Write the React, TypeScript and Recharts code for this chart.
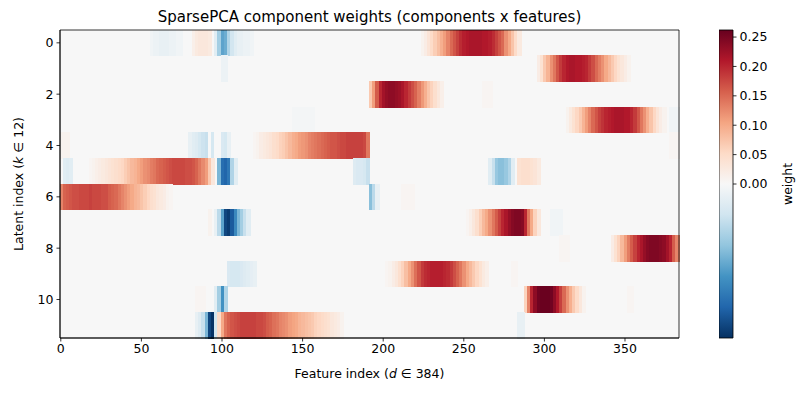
import React from 'react';
import { ComposedChart, XAxis, YAxis, ReferenceArea, Scatter, Label } from 'recharts';

// ---- data ----
// each run: [first feature index, weights for consecutive 2-feature cells]
type Run = [number, number[]];
const STEP = 2;
const N_FEATURES = 384;
const N_COMPONENTS = 12;
const VMAX = 0.262;

const ROW_0: Run[] = [
  [56, [-0.01, -0.015, -0.015, -0.02, -0.02, -0.02, -0.015, -0.015, -0.01, -0.01]],
  [82, [0.015, 0.025, 0.03, 0.03, 0.03, 0.025]],
  [96, [-0.03, -0.09, -0.14, -0.13, -0.08, -0.05, -0.03, -0.02, -0.02, -0.015, -0.015, -0.01]],
  [224, [0.01, 0.02, 0.035, 0.05, 0.065, 0.08, 0.095, 0.11, 0.13, 0.15, 0.165, 0.18, 0.195, 0.205, 0.21, 0.215, 0.215, 0.215, 0.215, 0.21, 0.21, 0.205, 0.195, 0.18, 0.165, 0.15, 0.12, 0.1, 0.075, 0.05, 0.025]],
];
const ROW_1: Run[] = [
  [100, [-0.015, -0.015]],
  [296, [0.02, 0.04, 0.07, 0.09, 0.12, 0.14, 0.165, 0.185, 0.2, 0.21, 0.215, 0.215, 0.21, 0.21, 0.205, 0.2, 0.185, 0.17, 0.15, 0.135, 0.12, 0.1, 0.085, 0.07, 0.055, 0.04, 0.03, 0.02, 0.01]],
];
const ROW_2: Run[] = [
  [192, [0.07, 0.11, 0.16, 0.2, 0.22, 0.23, 0.235, 0.235, 0.23, 0.225, 0.215, 0.2, 0.185, 0.17, 0.155, 0.135, 0.115, 0.095, 0.075, 0.06, 0.045, 0.03, 0.015]],
  [262, [0.005, 0.005, 0.005]],
];
const ROW_3: Run[] = [
  [144, [-0.005, -0.005, -0.005, -0.005, -0.005, -0.005, -0.005]],
  [314, [0.01, 0.025, 0.04, 0.055, 0.07, 0.09, 0.11, 0.13, 0.15, 0.165, 0.18, 0.19, 0.2, 0.205, 0.21, 0.215, 0.215, 0.215, 0.21, 0.21, 0.2, 0.185, 0.165, 0.14, 0.12, 0.095, 0.075, 0.055, 0.035, 0.02, 0.01]],
  [378, [-0.01, -0.01, -0.01]],
];
const ROW_4: Run[] = [
  [0, [0.01, 0.01, 0.01]],
  [80, [-0.02, -0.03, -0.035, -0.045, -0.055, -0.06, 0.0, -0.045, 0.0, 0.0, -0.04, -0.045, -0.02]],
  [120, [0.005, 0.01, 0.02, 0.025, 0.03, 0.035, 0.045, 0.05, 0.06, 0.065, 0.075, 0.085, 0.095, 0.1, 0.11, 0.115, 0.12, 0.13, 0.135, 0.14, 0.145, 0.15, 0.155, 0.16, 0.165, 0.165, 0.17, 0.175, 0.175, 0.18, 0.18, 0.18, 0.18, 0.18, 0.175, 0.14]],
  [378, [0.005, 0.005, 0.005]],
];
const ROW_5: Run[] = [
  [2, [-0.03, -0.035, -0.03]],
  [18, [0.005, 0.01, 0.015, 0.02, 0.025, 0.03, 0.035, 0.04, 0.045, 0.05, 0.055, 0.065, 0.075, 0.085, 0.09, 0.1, 0.11, 0.12, 0.125, 0.135, 0.14, 0.15, 0.155, 0.16, 0.165, 0.17, 0.175, 0.175, 0.175, 0.175, 0.17, 0.17, 0.165, 0.155, 0.14, 0.125, 0.11, 0.07, 0.03]],
  [98, [-0.12, -0.2, -0.21, -0.19, -0.08, -0.03]],
  [182, [-0.035, -0.04, -0.04, -0.045, -0.06]],
  [266, [-0.03, -0.06, -0.1, -0.11, -0.11, -0.1, -0.08, -0.03]],
  [284, [0.04, 0.045, 0.045, 0.045, 0.04, 0.035, 0.025]],
];
const ROW_6: Run[] = [
  [0, [0.13, 0.155, 0.16, 0.165, 0.17, 0.17, 0.175, 0.175, 0.175, 0.18, 0.175, 0.175, 0.175, 0.17, 0.17, 0.16, 0.155, 0.15, 0.14, 0.13, 0.12, 0.11, 0.1, 0.09, 0.085, 0.075, 0.065, 0.055, 0.045, 0.04, 0.03, 0.025, 0.02, 0.01, 0.005]],
  [192, [-0.11, -0.07, -0.02]],
  [212, [0.005, 0.005, 0.005, 0.005]],
];
const ROW_7: Run[] = [
  [92, [0.01]],
  [96, [-0.02, -0.07, -0.14, -0.24, -0.25, -0.22, -0.17, -0.12, -0.09, -0.06, -0.03]],
  [252, [0.005, 0.015, 0.03, 0.045, 0.065, 0.085, 0.1, 0.12, 0.14, 0.16, 0.18, 0.2, 0.215, 0.23, 0.24, 0.245, 0.245, 0.24, 0.2, 0.14, 0.1, 0.06, 0.03]],
  [304, [-0.01, -0.01, -0.01, -0.01]],
];
const ROW_8: Run[] = [
  [310, [0.005, 0.005, 0.005]],
  [342, [0.02, 0.04, 0.06, 0.085, 0.11, 0.135, 0.16, 0.18, 0.2, 0.215, 0.23, 0.24, 0.245, 0.245, 0.245, 0.24, 0.235, 0.22, 0.2, 0.16, 0.13]],
];
const ROW_9: Run[] = [
  [104, [-0.04, -0.045, -0.045, -0.045, -0.04, -0.035, -0.03, -0.025, -0.02]],
  [202, [0.005, 0.01, 0.02, 0.03, 0.045, 0.06, 0.08, 0.1, 0.12, 0.145, 0.165, 0.185, 0.195, 0.2, 0.205, 0.205, 0.205, 0.205, 0.2, 0.195, 0.185, 0.17, 0.155, 0.14, 0.12, 0.1, 0.085, 0.07, 0.055, 0.04, 0.025, 0.015]],
  [280, [0.005, 0.005]],
];
const ROW_10: Run[] = [
  [84, [0.005, 0.005, 0.005]],
  [96, [-0.03, -0.09, -0.16, -0.08]],
  [288, [0.06, 0.13, 0.2, 0.235, 0.255, 0.26, 0.26, 0.26, 0.255, 0.235, 0.21, 0.18, 0.15, 0.12, 0.095, 0.07, 0.05, 0.03, 0.01]],
  [352, [0.005, 0.005]],
];
const ROW_11: Run[] = [
  [84, [-0.02, -0.035, -0.06, -0.12, -0.24, -0.26, -0.05]],
  [98, [0.05, 0.1, 0.14, 0.155, 0.165, 0.17, 0.175, 0.18, 0.18, 0.18, 0.18, 0.18, 0.175, 0.175, 0.17, 0.16, 0.155, 0.145, 0.14, 0.13, 0.125, 0.12, 0.11, 0.105, 0.1, 0.09, 0.085, 0.08, 0.075, 0.07, 0.06, 0.055, 0.05, 0.045, 0.04, 0.03, 0.025, 0.02, 0.01]],
  [284, [-0.02, -0.02]],
];

const ROWS: Run[][] = [ROW_0, ROW_1, ROW_2, ROW_3, ROW_4, ROW_5, ROW_6, ROW_7, ROW_8, ROW_9, ROW_10, ROW_11];

const X_TICKS = [0, 50, 100, 150, 200, 250, 300, 350];
const Y_TICKS = [0, 2, 4, 6, 8, 10];
const CBAR_TICKS = [0, 0.05, 0.1, 0.15, 0.2, 0.25];

// RdBu_r colormap stops (low -> high)
const RDBU_R = ['#053061', '#2166ac', '#4393c3', '#92c5de', '#d1e5f0', '#f7f7f7', '#fddbc7', '#f4a582', '#d6604d', '#b2182b', '#67001f'];

function hexToRgb(h: string) {
  return [parseInt(h.slice(1, 3), 16), parseInt(h.slice(3, 5), 16), parseInt(h.slice(5, 7), 16)];
}
function colorOf(v: number) {
  let t = (v + VMAX) / (2 * VMAX);
  t = Math.max(0, Math.min(1, t));
  const p = t * (RDBU_R.length - 1);
  const i = Math.min(RDBU_R.length - 2, Math.floor(p));
  const f = p - i;
  const a = hexToRgb(RDBU_R[i]);
  const b = hexToRgb(RDBU_R[i + 1]);
  const c = a.map((av, k) => Math.round(av + (b[k] - av) * f));
  return `rgb(${c[0]},${c[1]},${c[2]})`;
}

const cells: { x1: number; x2: number; y1: number; y2: number; v: number }[] = [];
ROWS.forEach((runs, r) => {
  runs.forEach(([start, vals]) => {
    vals.forEach((v, i) => {
      const s = start + i * STEP;
      cells.push({ x1: s - 0.5, x2: Math.min(s + STEP, N_FEATURES) - 0.5, y1: r - 0.5, y2: r + 0.5, v });
    });
  });
});

const FONT = 'DejaVu Sans, sans-serif';
const TICK = { fontSize: 12.5, fill: '#000', fontFamily: FONT };

const XLabel = (props: any) => {
  const vb = props.viewBox;
  return (
    <text x={vb.x + vb.width / 2} y={vb.y + 40} textAnchor="middle" fontSize={12.5} fontFamily={FONT} fill="#000">
      Feature index (<tspan fontStyle="italic">d</tspan> ∈ 384)
    </text>
  );
};
const YLabel = (props: any) => {
  const vb = props.viewBox;
  const cy = vb.y + vb.height / 2;
  return (
    <text x={18} y={cy} transform={`rotate(-90, 18, ${cy})`} textAnchor="middle" dominantBaseline="central" fontSize={12.5} fontFamily={FONT} fill="#000">
      Latent index (<tspan fontStyle="italic">k</tspan> ∈ 12)
    </text>
  );
};
const CbLabel = (props: any) => {
  const vb = props.viewBox;
  const cy = vb.y + vb.height / 2;
  const x = 68;
  return (
    <text x={x} y={cy} transform={`rotate(-90, ${x}, ${cy})`} textAnchor="middle" dominantBaseline="central" fontSize={12.5} fontFamily={FONT} fill="#000">
      weight
    </text>
  );
};

const DUMMY = [{ x: 0, y: 0 }];

export default function App() {
  return (
    <div style={{ position: 'absolute', left: 0, top: 0, width: 803, height: 393, background: '#fff' }}>
      <div style={{ position: 'absolute', left: 0, top: 7, width: 739, textAlign: 'center', fontFamily: FONT, fontSize: 15, lineHeight: '20px', color: '#000' }}>
        SparsePCA component weights (components x features)
      </div>
      <div style={{ position: 'absolute', left: 0, top: 0 }}>
        <ComposedChart width={700} height={393} data={DUMMY} margin={{ top: 30, right: 21, bottom: 0, left: 0 }}>
          <XAxis
            type="number"
            dataKey="x"
            domain={[-0.5, N_FEATURES - 0.5]}
            ticks={X_TICKS}
            allowDataOverflow
            height={55}
            tick={TICK}
            tickSize={3.5}
            tickMargin={3}
            tickLine={{ stroke: '#000', strokeWidth: 0.8 }}
            axisLine={{ stroke: '#000', strokeWidth: 0.8 }}
          >
            <Label content={XLabel} />
          </XAxis>
          <YAxis
            type="number"
            dataKey="y"
            domain={[-0.5, N_COMPONENTS - 0.5]}
            reversed
            ticks={Y_TICKS}
            allowDataOverflow
            width={60}
            tick={TICK}
            tickSize={3.5}
            tickMargin={3}
            tickLine={{ stroke: '#000', strokeWidth: 0.8 }}
            axisLine={{ stroke: '#000', strokeWidth: 0.8 }}
          >
            <Label content={YLabel} />
          </YAxis>
          <ReferenceArea x1={-0.5} x2={N_FEATURES - 0.5} y1={-0.5} y2={N_COMPONENTS - 0.5} fill={colorOf(0)} fillOpacity={1} stroke="none" />
          {cells.map((c, i) => (
            <ReferenceArea
              key={i}
              x1={c.x1}
              x2={c.x2}
              y1={c.y1}
              y2={c.y2}
              fill={colorOf(c.v)}
              fillOpacity={1}
              stroke={colorOf(c.v)}
              strokeWidth={1}
              shapeRendering="crispEdges"
              ifOverflow="visible"
            />
          ))}
          <ReferenceArea x1={-0.5} x2={N_FEATURES - 0.5} y1={-0.5} y2={N_COMPONENTS - 0.5} fill="none" fillOpacity={0} stroke="#000" strokeWidth={0.8} />
          <Scatter data={DUMMY} isAnimationActive={false} shape={() => <g />} />
        </ComposedChart>
      </div>
      <div style={{ position: 'absolute', left: 719, top: 0 }}>
        <ComposedChart width={84} height={393} data={DUMMY} margin={{ top: 30, right: 0, bottom: 55, left: 0 }}>
          <defs>
            <linearGradient id="cbgrad" x1="0" y1="1" x2="0" y2="0">
              {RDBU_R.map((c, i) => (
                <stop key={i} offset={`${(i / (RDBU_R.length - 1)) * 100}%`} stopColor={c} />
              ))}
            </linearGradient>
          </defs>
          <XAxis type="number" dataKey="x" domain={[0, 1]} hide height={0} allowDataOverflow />
          <YAxis
            type="number"
            dataKey="y"
            orientation="right"
            domain={[-VMAX, VMAX]}
            ticks={CBAR_TICKS}
            allowDataOverflow
            width={70}
            tick={TICK}
            tickSize={3.5}
            tickMargin={3}
            tickFormatter={(v: number) => v.toFixed(2)}
            tickLine={{ stroke: '#000', strokeWidth: 0.8 }}
            axisLine={false}
          >
            <Label content={CbLabel} />
          </YAxis>
          <ReferenceArea x1={0} x2={1} y1={-VMAX} y2={VMAX} fill="url(#cbgrad)" fillOpacity={1} stroke="#000" strokeWidth={0.8} />
          <Scatter data={DUMMY} isAnimationActive={false} shape={() => <g />} />
        </ComposedChart>
      </div>
    </div>
  );
}
